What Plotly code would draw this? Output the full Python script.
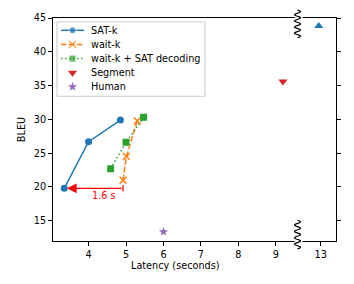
import numpy as np
import plotly.graph_objects as go

# ---- data ----
sat_x = [3.35, 4.0, 4.85]
sat_y = [19.8, 26.7, 29.9]
sat_full_x = [12.95]
sat_full_y = [43.8]
waitk_x = [4.92, 5.01, 5.3]
waitk_y = [21.0, 24.5, 29.8]
wsat_x = [4.59, 5.0, 5.47]
wsat_y = [22.7, 26.6, 30.3]
seg_x = [9.19]
seg_y = [35.6]
human_x = [6.0]
human_y = [13.35]
x1_ticks = [4, 5, 6, 7, 8, 9]
x2_ticks = [13]
y_ticks = [15, 20, 25, 30, 35, 40, 45]
gap_label = "1.6 s"
legend_names = ["SAT-k", "wait-k", "wait-k + SAT decoding", "Segment", "Human"]

BLUE, ORANGE, GREEN, RED, PURPLE = "#1f77b4", "#ff7f0e", "#2ca02c", "#d62728", "#9467bd"
FONT = "DejaVu Sans"
FS = 9.7

W, H = 354, 284
ML, MR, MT, MB = 53, 18, 15, 43

styles = [
    dict(mode="lines+markers", line=dict(color=BLUE, width=1.5),
         marker=dict(symbol="circle", size=7, color=BLUE)),
    dict(mode="lines+markers", line=dict(color=ORANGE, width=1.5, dash="5.5px,2.4px"),
         marker=dict(symbol="x-thin", size=7, color=ORANGE, line=dict(color=ORANGE, width=1.5))),
    dict(mode="lines+markers", line=dict(color=GREEN, width=1.5, dash="1.5px,2.5px"),
         marker=dict(symbol="square", size=7, color=GREEN)),
    dict(mode="markers", marker=dict(symbol="triangle-down", size=8, color=RED)),
    dict(mode="markers", marker=dict(symbol="star", size=7, color=PURPLE)),
]
series = [(sat_x, sat_y), (waitk_x, waitk_y), (wsat_x, wsat_y), (seg_x, seg_y), (human_x, human_y)]

fig = go.Figure()
for (xs, ys), name, st in zip(series, legend_names, styles):
    fig.add_trace(go.Scatter(x=xs, y=ys, name=name, showlegend=False,
                             xaxis="x", yaxis="y", **st))
fig.add_trace(go.Scatter(x=sat_full_x, y=sat_full_y, name="SAT-k full", mode="markers",
                         marker=dict(symbol="triangle-up", size=8, color=BLUE),
                         showlegend=False, xaxis="x2", yaxis="y2"))

split = 0.864
axis_common = dict(showline=True, linecolor="black", linewidth=1, ticks="outside",
                   ticklen=4, tickcolor="black", showgrid=False, zeroline=False,
                   tickfont=dict(family=FONT, size=FS, color="black"))

fig.update_layout(
    width=W, height=H,
    margin=dict(l=ML, r=MR, t=MT, b=MB),
    paper_bgcolor="white", plot_bgcolor="rgba(0,0,0,0)",
    font=dict(family=FONT, size=FS, color="black"),
    showlegend=False,
    xaxis=dict(domain=[0, split], range=[3.05, 9.58], tickvals=x1_ticks, anchor="y",
               mirror=True, title=dict(text="Latency (seconds)", font=dict(size=FS), standoff=2),
               **axis_common),
    xaxis2=dict(domain=[split, 1], range=[12.38, 13.41], tickvals=x2_ticks, anchor="y2",
                mirror=True, **axis_common),
    yaxis=dict(domain=[0, 1], range=[12, 45], tickvals=y_ticks, anchor="x",
               title=dict(text="BLEU", font=dict(size=FS), standoff=6), **axis_common),
    yaxis2=dict(domain=[0, 1], range=[12, 45], tickvals=y_ticks, anchor="x2", side="right",
                showticklabels=False, **axis_common),
    # helper axes in pixel units for the hand-drawn legend box
    xaxis3=dict(domain=[0, 1], range=[ML, W - MR], visible=False, anchor="y3", fixedrange=True),
    yaxis3=dict(domain=[0, 1], range=[H - MB, MT], visible=False, anchor="x3", fixedrange=True),
)

# ---- legend (matplotlib-like compact box) ----
LX0, LX1, LY0, LY1 = 57, 205, 19, 94.3
ROW0, DROW = 27.5, 14.3
SX0, SX1, TX = 61, 84, 89
fig.add_shape(type="rect", xref="x3", yref="y3", x0=LX0, x1=LX1, y0=LY0, y1=LY1,
              line=dict(color="#cccccc", width=1), fillcolor="rgba(255,255,255,0.8)",
              layer="below")
for i, (name, st) in enumerate(zip(legend_names, styles)):
    ry = ROW0 + i * DROW
    mid = (SX0 + SX1) / 2
    if "lines" in st["mode"]:
        mk = dict(st["marker"])
        mk["size"] = [0, mk["size"], 0]
        fig.add_trace(go.Scatter(x=[SX0, mid, SX1], y=[ry, ry, ry], mode="lines+markers",
                                 line=st["line"], marker=mk, showlegend=False,
                                 hoverinfo="skip", xaxis="x3", yaxis="y3"))
    else:
        fig.add_trace(go.Scatter(x=[mid], y=[ry], mode="markers", marker=st["marker"],
                                 showlegend=False, hoverinfo="skip", xaxis="x3", yaxis="y3"))
    fig.add_annotation(x=TX, y=ry, xref="x3", yref="y3", text=name, showarrow=False,
                       xanchor="left", yanchor="middle", font=dict(family=FONT, size=FS, color="black"))

# ---- arrow showing latency gap ----
arrow_y = sat_y[0]
fig.add_annotation(x=sat_x[0] + 0.07, y=arrow_y, ax=waitk_x[0], ay=arrow_y,
                   xref="x", yref="y", axref="x", ayref="y", text="",
                   showarrow=True, arrowhead=2, arrowsize=1.5, arrowwidth=1.3, arrowcolor="red")
fig.add_shape(type="line", xref="x", yref="y", x0=waitk_x[0], x1=waitk_x[0],
              y0=arrow_y - 0.45, y1=arrow_y + 0.45, line=dict(color="red", width=1.3))
fig.add_annotation(x=4.03, y=arrow_y - 1.0, xref="x", yref="y", xanchor="left",
                   text=gap_label, showarrow=False, font=dict(color="red", size=FS, family=FONT))

# ---- wavy break marks (decoration) ----
plot_w = W - ML - MR
plot_h = H - MT - MB
def wave_path(y_top_px, y_bot_px):
    t = np.linspace(0, 1, 60)
    ys_px = y_top_px + (y_bot_px - y_top_px) * t
    xs_px = 3.0 * np.sin(t * 2 * np.pi * 4.5)
    pts = [(split + xp / plot_w, (plot_h - yp) / plot_h) for xp, yp in zip(xs_px, ys_px)]
    return "M " + " L ".join(f"{a:.5f},{b:.5f}" for a, b in pts)

for top_px, bot_px in [(-8, 20), (205, 234)]:
    p = wave_path(top_px, bot_px)
    fig.add_shape(type="path", path=p, xref="paper", yref="paper",
                  line=dict(color="white", width=4), layer="above")
    fig.add_shape(type="path", path=p, xref="paper", yref="paper",
                  line=dict(color="black", width=1.2), layer="above")

fig.write_html("out.html", config={"displayModeBar": False},
               post_script="document.body.style.margin='0';")
